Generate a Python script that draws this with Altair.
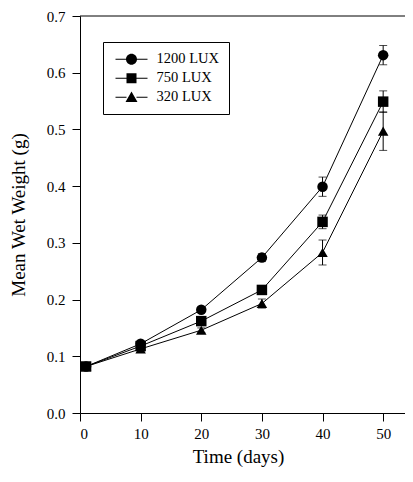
import altair as alt
import pandas as pd

days = [1, 10, 20, 30, 40, 50]
series_names = ["1200 LUX", "750 LUX", "320 LUX"]
w1200 = [0.082, 0.122, 0.182, 0.274, 0.399, 0.631]
w750 = [0.082, 0.118, 0.162, 0.217, 0.337, 0.549]
w320 = [0.082, 0.113, 0.146, 0.193, 0.283, 0.497]
e1200 = [0.003, 0.004, 0.004, 0.007, 0.017, 0.017]
e750 = [0.003, 0.003, 0.004, 0.006, 0.012, 0.019]
e320 = [0.003, 0.003, 0.004, 0.008, 0.022, 0.034]
x_ticks = [0, 10, 20, 30, 40, 50]
y_ticks = [0.0, 0.1, 0.2, 0.3, 0.4, 0.5, 0.6, 0.7]

rows = []
for name, vals, errs in zip(series_names, [w1200, w750, w320], [e1200, e750, e320]):
    for d, v, e in zip(days, vals, errs):
        rows.append({"day": d, "weight": v, "lo": v - e, "hi": v + e, "series": name})
df = pd.DataFrame(rows)

FONT = "Liberation Serif"
PLOT_W, PLOT_H = 325, 397
xscale = alt.Scale(domain=[0, 53.6], nice=False, zero=False)
yscale = alt.Scale(domain=[0, 0.7], nice=False)

x = alt.X("day:Q", scale=xscale,
          axis=alt.Axis(values=x_ticks, title="Time (days)", titleY=34, titleX=158,
                        titleBaseline="top", labelPadding=5))
y = alt.Y("weight:Q", scale=yscale,
          axis=alt.Axis(values=y_ticks, format=".1f", title="Mean Wet Weight (g)",
                        titleX=-52, labelPadding=7))

base = alt.Chart(df)

lines = base.mark_line(color="black", strokeWidth=1).encode(x=x, y=y, detail="series:N")

err_rule = base.mark_rule(color="black", strokeWidth=1).encode(x="day:Q", y="lo:Q", y2="hi:Q")
cap_lo = base.mark_tick(color="black", thickness=1, size=8, orient="horizontal").encode(x="day:Q", y="lo:Q")
cap_hi = base.mark_tick(color="black", thickness=1, size=8, orient="horizontal").encode(x="day:Q", y="hi:Q")

points = base.mark_point(filled=True, color="black", opacity=1, size=110).encode(
    x="day:Q", y="weight:Q",
    shape=alt.Shape("series:N", scale=alt.Scale(domain=series_names,
                                                range=["circle", "square", "triangle-up"]),
                    legend=None),
)

# top frame line of the plot box
frame_top = alt.Chart(pd.DataFrame({"k": [0]})).mark_rule(color="black", strokeWidth=1).encode(
    x=alt.value(0), x2=alt.value(PLOT_W), y=alt.value(0))

# legend glyphs: short line with the marker in its middle (unit coords, 1 unit = 5px)
leg_paths = [
    "M-0.95,-0.1H1.25V0.1H-0.95Z M3.25,-0.1H5.45V0.1H3.25Z M3.35,0A1.1,1.1 0 1,1 1.15,0A1.1,1.1 0 1,1 3.35,0Z",
    "M-0.95,-0.1H1.25V0.1H-0.95Z M3.25,-0.1H5.45V0.1H3.25Z M1.25,-1H3.25V1H1.25Z",
    "M-0.95,-0.1H1.25V0.1H-0.95Z M3.25,-0.1H5.45V0.1H3.25Z M2.25,-1.15L3.45,0.95H1.05Z",
]
legend_layer = base.transform_filter(alt.datum.day < 0).mark_point(
    filled=True, color="black", opacity=1, size=100).encode(
    x="day:Q",
    y="weight:Q",
    shape=alt.Shape("series:N", scale=alt.Scale(domain=series_names, range=leg_paths),
                    legend=alt.Legend(title=None, orient="none", legendX=23, legendY=26,
                                      strokeColor="black", fillColor="white", padding=10,
                                      symbolSize=100, symbolFillColor="black",
                                      symbolStrokeColor="black", symbolStrokeWidth=0,
                                      labelFont=FONT, labelFontSize=14.5, labelColor="black",
                                      labelOffset=29, rowPadding=4)),
)

chart = alt.layer(lines, err_rule, cap_lo, cap_hi, points, frame_top, legend_layer).resolve_scale(
    shape="independent"
).properties(
    width=PLOT_W, height=PLOT_H,
    autosize=alt.AutoSizeParams(type="none"),
    padding={"left": 72, "top": 8, "right": 0, "bottom": 55},
    background="white",
).configure_view(
    stroke="transparent"
).configure_axis(
    grid=False, domainColor="black", domainWidth=1, tickColor="black", tickSize=8,
    tickWidth=1, labelFont=FONT, labelFontSize=15, labelColor="black",
    titleFont=FONT, titleFontSize=19, titleFontWeight="normal", titleColor="black",
)

chart.save("out.html", embed_options={"renderer": "svg", "actions": False})
